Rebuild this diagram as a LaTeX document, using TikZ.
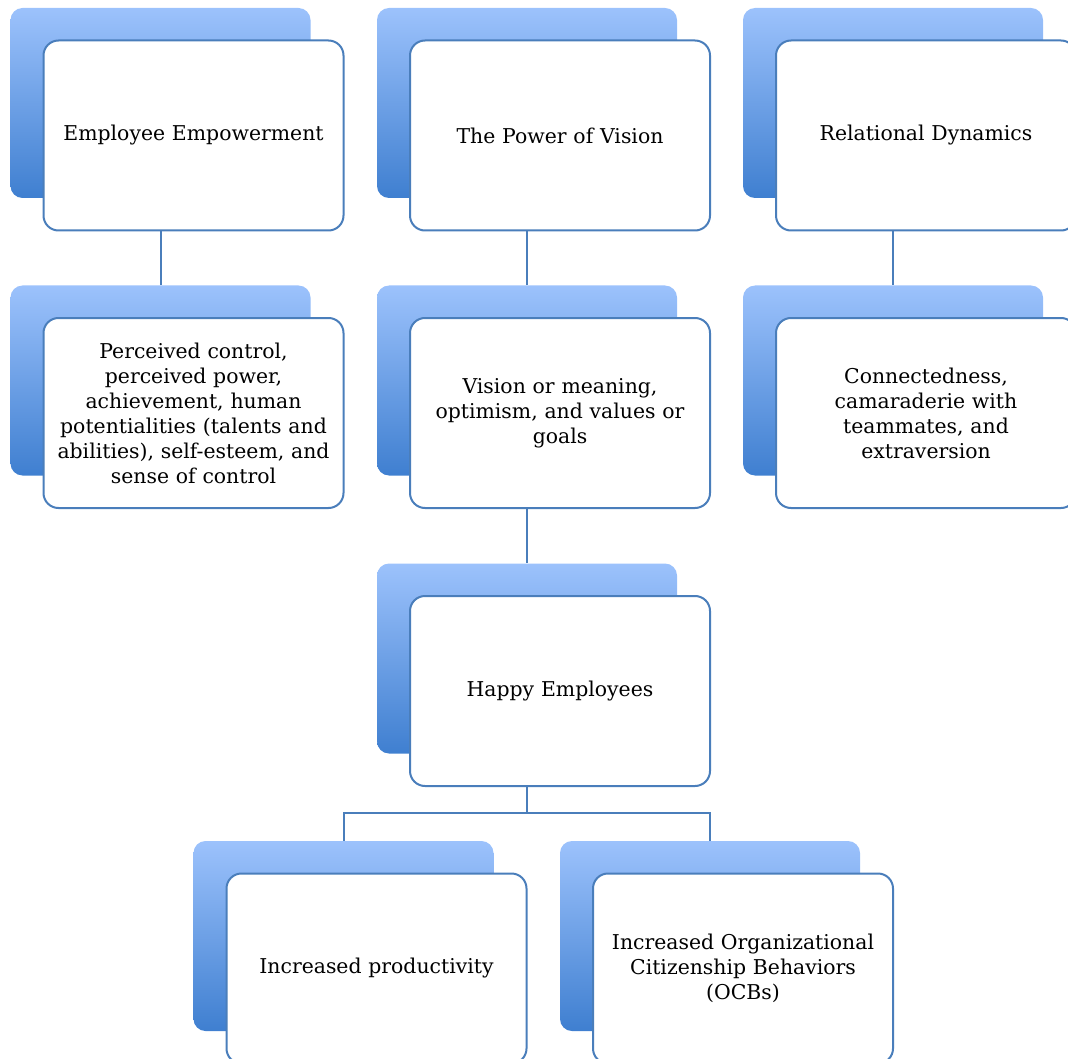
\documentclass[tikz,border=0pt]{standalone}
\usepackage{fontspec}
\setmainfont{DejaVu Serif}
\usetikzlibrary{calc}
\definecolor{lineblue}{RGB}{74,126,187}
\definecolor{gradtop}{RGB}{156,194,252}
\definecolor{gradbot}{RGB}{63,127,208}
\tikzset{
  backbox/.style={rectangle, rounded corners=12pt, minimum width=300pt, minimum height=190pt,
    top color=gradtop, bottom color=gradbot, draw=none, inner sep=0pt},
  frontbox/.style={rectangle, rounded corners=15pt, minimum width=300pt, minimum height=190pt,
    fill=white, draw=lineblue, line width=2pt, align=center, text width=284pt,
    font=\fontsize{20.4}{25}\selectfont, inner sep=0pt},
  conn/.style={draw=lineblue, line width=2pt}
}
\begin{document}
\begin{tikzpicture}[x=1pt,y=-1pt]
\useasboundingbox (0,0) rectangle (1068,1059);
% back boxes
\node[backbox] (b1) at (160.5,103) {};
\node[backbox] (b2) at (527,103) {};
\node[backbox] (b3) at (893,103) {};
\node[backbox] (b4) at (160.5,380.5) {};
\node[backbox] (b5) at (527,380.5) {};
\node[backbox] (b6) at (893,380.5) {};
\node[backbox] (b7) at (527,658.5) {};
\node[backbox] (b8) at (343.5,936) {};
\node[backbox] (b9) at (710,936) {};
% front boxes
\node[frontbox] (f1) at ($(b1)+(33,32.5)$) {Employee Empowerment};
\node[frontbox] (f2) at ($(b2)+(33,32.5)$) {The Power of Vision};
\node[frontbox] (f3) at ($(b3)+(33,32.5)$) {Relational Dynamics};
\node[frontbox] (f4) at ($(b4)+(33,32.5)$) {Perceived control,\\perceived power,\\achievement, human\\potentialities (talents and\\abilities), self-esteem, and\\sense of control};
\node[frontbox] (f5) at ($(b5)+(33,32.5)$) {Vision or meaning,\\optimism, and values or\\goals};
\node[frontbox] (f6) at ($(b6)+(33,32.5)$) {Connectedness,\\camaraderie with\\teammates, and\\extraversion};
\node[frontbox] (f7) at ($(b7)+(33,32.5)$) {Happy Employees};
\node[frontbox] (f8) at ($(b8)+(33,32.5)$) {Increased productivity};
\node[frontbox] (f9) at ($(b9)+(33,32.5)$) {Increased Organizational\\Citizenship Behaviors\\(OCBs)};
% connectors
\draw[conn] (f1.south -| b1) -- (b4.north);
\draw[conn] (f2.south -| b2) -- (b5.north);
\draw[conn] (f3.south -| b3) -- (b6.north);
\draw[conn] (f5.south -| b5) -- (b7.north);
\coordinate (j) at (527,813);
\draw[conn] (f7.south -| b7) -- (j);
\draw[conn] (b8.north) -- (b8.north |- j) -- (b9.north |- j) -- (b9.north);
\end{tikzpicture}
\end{document}
